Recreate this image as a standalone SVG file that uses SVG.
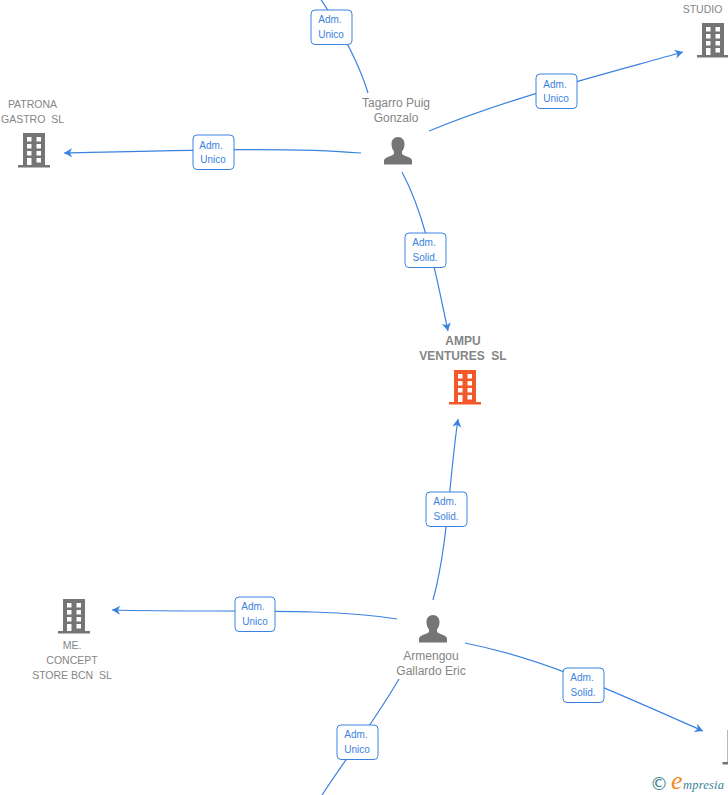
<svg xmlns="http://www.w3.org/2000/svg" width="728" height="795" viewBox="0 0 728 795">
<style>
.lbl{font-family:"Liberation Sans",Arial,sans-serif;font-size:12px;fill:#858585;text-anchor:middle;white-space:pre}
.cap{font-size:10.500px}
.b{font-weight:bold}
.tag rect{fill:#fff;stroke:#3b82e0;stroke-width:1}
.tag text{font-family:"Liberation Sans",Arial,sans-serif;font-size:10px;fill:#3b82e0;text-anchor:middle}
.c{fill:none;stroke:#3b82e0;stroke-width:1.200;marker-end:url(#arr)}
.n{fill:none;stroke:#3b82e0;stroke-width:1.200}
</style>
<defs>
<marker id="arr" viewBox="0 0 10 10" refX="10" refY="5" markerWidth="9" markerHeight="10" markerUnits="userSpaceOnUse" orient="auto"><path d="M1 0L10 5L1 10L3.500 5Z" fill="#3b82e0"/></marker>
<path id="bld" fill-rule="evenodd" d="M-11 0H11V32H16V34.500H-16V32H-11ZM-7 4V8.500H-2.500V4ZM2.500 4V8.500H7V4ZM-7 11V15.500H-2.500V11ZM2.500 11V15.500H7V11ZM-7 18V22.500H-2.500V18ZM2.500 18V22.500H7V18ZM-7 25V32H-2.500V25ZM2.500 25V29.500H7V25Z"/>
<path id="psn" d="M0 0C4 0 6.500 3 6.500 7C6.500 10 5.500 12.500 4 14.500V16.500C4 17.500 6 18.500 9 19.500C12.500 20.700 14 22 14 24V27.500H-14V24C-14 22 -12.500 20.700 -9 19.500C-6 18.500 -4 17.500 -4 16.500V14.500C-5.500 12.500 -6.500 10 -6.500 7C-6.500 3 -4 0 0 0Z" fill="#757575"/>
</defs>
<g id="connectors">
<path class="c" d="M361 153C290 147 190 150 64 153"/>
<path class="n" d="M368 93C358 60 338 25 318 -5"/>
<path class="c" d="M429 131C510 98 590 78 683 52"/>
<path class="c" d="M402 172C425 215 435 270 448 331"/>
<path class="c" d="M433 600C448 545 449 480 458 419"/>
<path class="c" d="M397 619C320 607 220 613 112 610"/>
<path class="c" d="M465 643C550 660 620 695 703 731"/>
<path class="n" d="M399 679C375 720 345 760 322 795"/>
</g>
<g id="node-patrona"><text class="lbl cap" x="32.500" y="108">PATRONA</text><text class="lbl cap" x="32.500" y="123" xml:space="preserve">GASTRO  SL</text><use href="#bld" x="34" y="133" fill="#757575"/></g>
<g id="node-studio"><text class="lbl cap" x="702.500" y="13">STUDIO</text><use href="#bld" x="713" y="23" fill="#757575"/></g>
<g id="node-tagarro"><text class="lbl" x="396" y="107">Tagarro Puig</text><text class="lbl" x="396" y="122">Gonzalo</text><use href="#psn" x="398" y="137"/></g>
<g id="node-ampu"><text class="lbl b" x="463" y="345">AMPU</text><text class="lbl b" x="463" y="360" xml:space="preserve">VENTURES  SL</text><use href="#bld" x="465" y="370" fill="#f4582a"/></g>
<g id="node-me"><use href="#bld" x="74" y="599" fill="#757575"/><text class="lbl cap" x="72" y="649">ME.</text><text class="lbl cap" x="72" y="664">CONCEPT</text><text class="lbl cap" x="72" y="679" xml:space="preserve">STORE BCN  SL</text></g>
<g id="node-armengou"><use href="#psn" x="433" y="615"/><text class="lbl" x="431" y="660">Armengou</text><text class="lbl" x="431" y="675">Gallardo Eric</text></g>
<g id="node-partial"><use href="#bld" x="738.500" y="730" fill="#757575"/></g>
<g id="tag-1" class="tag"><rect x="311" y="10" width="41" height="34.500" rx="4"/><text x="330" y="23">Adm.</text><text x="331" y="38">Unico</text></g>
<g id="tag-2" class="tag"><rect x="536" y="74" width="41" height="34.500" rx="4"/><text x="555" y="88">Adm.</text><text x="556" y="102">Unico</text></g>
<g id="tag-3" class="tag"><rect x="193" y="135" width="41" height="34.500" rx="4"/><text x="211" y="149">Adm.</text><text x="213" y="163">Unico</text></g>
<g id="tag-4" class="tag"><rect x="405" y="233" width="41" height="34.500" rx="4"/><text x="424" y="246">Adm.</text><text x="425" y="261">Solid.</text></g>
<g id="tag-5" class="tag"><rect x="426" y="492" width="41" height="34.500" rx="4"/><text x="445" y="505">Adm.</text><text x="446" y="520">Solid.</text></g>
<g id="tag-6" class="tag"><rect x="235" y="597" width="40" height="34.500" rx="4"/><text x="253" y="610">Adm.</text><text x="255" y="625">Unico</text></g>
<g id="tag-7" class="tag"><rect x="563" y="668" width="41" height="34.500" rx="4"/><text x="582" y="681">Adm.</text><text x="583" y="696">Solid.</text></g>
<g id="tag-8" class="tag"><rect x="337" y="725" width="41" height="34.500" rx="4"/><text x="356" y="738">Adm.</text><text x="357" y="753">Unico</text></g>
<g id="logo"><text x="650" y="790" font-family="'DejaVu Sans',sans-serif" font-size="18" fill="#3a7f92">©</text><text x="671" y="789" font-family="'Liberation Serif',serif" font-style="italic" font-size="26" fill="#f08a1d">e</text><text x="683" y="789" font-family="'Liberation Serif',serif" font-style="italic" font-size="12.500" letter-spacing=".2" fill="#3a7f92">mpresia</text></g>
</svg>
